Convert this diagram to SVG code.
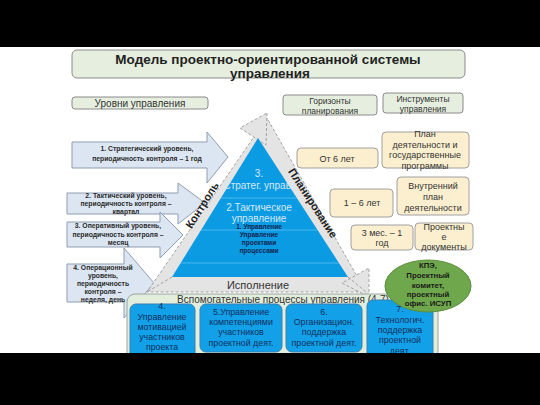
<svg xmlns="http://www.w3.org/2000/svg" width="540" height="405" viewBox="0 0 540 405">
<style>
text{font-family:"Liberation Sans","DejaVu Sans",sans-serif;text-anchor:middle}
.gbox{fill:#e6efdf;stroke:#8a8a8a;stroke-width:1}
.ybox{fill:#fcefcf;stroke:#a0a0a0;stroke-width:1}
.arr{fill:#dce6f2;stroke:#8f9db0;stroke-width:1}
.bbox{fill:#12a0e8;stroke:#3a7fb0;stroke-width:1}
.t9{font-size:9px;fill:#333}
.t10{font-size:10px;fill:#333}
.ta{font-size:6.8px;font-weight:bold;fill:#2a2a2a}
.tb{font-size:8.8px;fill:#10305e}
.band{fill:#e4e4e4;stroke:#8f8f8f;stroke-width:0.8;stroke-dasharray:3 2}
</style>
<rect x="0" y="0" width="540" height="405" fill="#ffffff"/>
<rect x="0" y="0" width="540" height="47" fill="#000"/>

<g id="title">
<rect class="gbox" x="72" y="50" width="393" height="28" rx="5"/>
<text x="268" y="64" style="font-size:13.5px;font-weight:bold;fill:#222">Модель проектно-ориентированной системы</text>
<text x="270" y="78" style="font-size:13.5px;font-weight:bold;fill:#222">управления</text>
</g>

<g id="levels-header">
<rect class="gbox" x="72" y="97" width="136" height="12" rx="3"/>
<text class="t10" x="140" y="106.5">Уровни управления</text>
</g>
<g id="horizons-header">
<rect class="gbox" x="283" y="95" width="94" height="20" rx="3"/>
<text class="t9" x="330" y="103.5" style="font-size:8.5px">Горизонты</text>
<text class="t9" x="330" y="113.5" style="font-size:8.5px">планирования</text>
</g>
<g id="tools-header">
<rect class="gbox" x="383" y="93" width="80" height="20" rx="3"/>
<text class="t9" x="423" y="101.5" style="font-size:8.5px">Инструменты</text>
<text class="t9" x="423" y="111.5" style="font-size:8.5px">управления</text>
</g>

<g id="level1">
<polygon class="arr" points="72,142 207,142 207,132 228,157 207,183 207,168 72,168"/>
<text class="ta" x="147" y="151">1. Стратегический уровень,</text>
<text class="ta" x="147" y="161">периодичность контроля – 1 год</text>
</g>
<g id="level2">
<polygon class="arr" points="67,193 178,193 178,183 205,203 178,224 178,214 67,214"/>
<text class="ta" x="126" y="198">2. Тактический уровень,</text>
<text class="ta" x="126" y="206">периодичность контроля –</text>
<text class="ta" x="126" y="214">квартал</text>
</g>
<g id="level3">
<polygon class="arr" points="67,222 160,222 160,212 183,235 160,258 160,247 67,247"/>
<text class="ta" x="118" y="228">3. Оперативный уровень,</text>
<text class="ta" x="118" y="237">периодичность контроля –</text>
<text class="ta" x="118" y="245">месяц</text>
</g>
<g id="level4">
<polygon class="arr" points="67,264 124,264 124,248 154,283 124,318 124,302 67,302"/>
<text class="ta" x="103" y="270">4. Операционный</text>
<text class="ta" x="103" y="278">уровень,</text>
<text class="ta" x="103" y="286">периодичность</text>
<text class="ta" x="103" y="294">контроля –</text>
<text class="ta" x="103" y="302">неделя, день</text>
</g>

<g id="connectors">
<polygon class="band" points="267,118 147,292 366,292"/>
<polygon class="band" points="267,113 266,145 240,128"/>
<polygon class="band" points="369,297 369,268 342,283"/>
<line x1="172" y1="277" x2="147" y2="292" stroke="#8f8f8f" stroke-width="0.8" stroke-dasharray="3 2"/>
<line x1="348" y1="277" x2="366" y2="292" stroke="#8f8f8f" stroke-width="0.8" stroke-dasharray="3 2"/>
</g>

<g id="pyramid">
<polygon points="258,138 172,277 348,277" fill="#0b9be3"/>
<g stroke="#5cc0f0" stroke-width="0.8">
<line x1="221" y1="198" x2="297" y2="198"/>
<line x1="201" y1="230" x2="317" y2="230"/>
<line x1="181" y1="263" x2="339" y2="263"/>
</g>
<text x="259" y="177" style="font-size:10px;fill:#d6e8f7">3.</text>
<text x="260" y="189" style="font-size:10px;fill:#d6e8f7">Стратег. управл</text>
<text x="259" y="211" style="font-size:10px;fill:#d6e8f7">2.Тактическое</text>
<text x="259" y="222" style="font-size:10px;fill:#d6e8f7">управление</text>
<text x="259" y="229" style="font-size:6.5px;font-weight:bold;fill:#0d2550">1. Управление</text>
<text x="259" y="237" style="font-size:6.5px;font-weight:bold;fill:#0d2550">Управление</text>
<text x="259" y="245" style="font-size:6.5px;font-weight:bold;fill:#0d2550">проектами</text>
<text x="259" y="253" style="font-size:6.5px;font-weight:bold;fill:#0d2550">процессами</text>
</g>

<g id="cycle-labels">
<text x="202" y="209" transform="rotate(-58 202 205)" style="font-size:11px;font-weight:bold;fill:#222">Контроль</text>
<text x="313" y="207" transform="rotate(57 313 203)" style="font-size:11px;font-weight:bold;fill:#222">Планирование</text>
<text x="258" y="289" style="font-size:11px;fill:#333">Исполнение</text>
</g>

<g id="h1">
<rect class="ybox" x="297" y="148" width="81" height="20" rx="4"/>
<text class="t9" x="337" y="161.5">От 6 лет</text>
</g>
<g id="i1">
<rect class="ybox" x="382" y="132" width="87" height="36" rx="4"/>
<text class="t9" x="425" y="137">План</text>
<text class="t9" x="425" y="148">деятельности и</text>
<text class="t9" x="425" y="158">государственные</text>
<text class="t9" x="425" y="169">программы</text>
</g>
<g id="h2">
<rect class="ybox" x="330" y="189" width="63" height="28" rx="4"/>
<text class="t9" x="362" y="206">1 – 6 лет</text>
</g>
<g id="i2">
<rect class="ybox" x="397" y="177" width="72" height="38" rx="4"/>
<text class="t9" x="433" y="189">Внутренний</text>
<text class="t9" x="433" y="200">план</text>
<text class="t9" x="433" y="211">деятельности</text>
</g>
<g id="h3">
<rect class="ybox" x="351" y="225" width="62" height="25" rx="4"/>
<text class="t9" x="382" y="236">3 мес. – 1</text>
<text class="t9" x="382" y="246">год</text>
</g>
<g id="i3">
<rect class="ybox" x="415" y="223" width="58" height="27" rx="4"/>
<text class="t9" x="444" y="230">Проектны</text>
<text class="t9" x="444" y="240">е</text>
<text class="t9" x="444" y="250">документы</text>
</g>

<g id="support">
<rect class="gbox" x="127" y="294" width="311" height="80" rx="8" style="fill:#e2eedb;stroke:#9aa5a0"/>
<text x="283" y="303" style="font-size:10px;fill:#333">Вспомогательные процессы управления (4-7)</text>
</g>
<g id="p4">
<rect class="bbox" x="130" y="304" width="65" height="60" rx="6"/>
<text class="tb" x="162" y="309">4.</text>
<text class="tb" x="162" y="320">Управление</text>
<text class="tb" x="162" y="330">мотивацией</text>
<text class="tb" x="162" y="340">участников</text>
<text class="tb" x="162" y="350">проекта</text>
</g>
<g id="p5">
<rect class="bbox" x="200" y="304" width="82" height="48" rx="6"/>
<text class="tb" x="241" y="315">5.Управление</text>
<text class="tb" x="241" y="325">компетенциями</text>
<text class="tb" x="241" y="335">участников</text>
<text class="tb" x="241" y="346">проектной деят.</text>
</g>
<g id="p6">
<rect class="bbox" x="286" y="304" width="76" height="48" rx="6"/>
<text class="tb" x="324" y="315">6.</text>
<text class="tb" x="324" y="325">Организацион.</text>
<text class="tb" x="324" y="335">поддержка</text>
<text class="tb" x="324" y="346">проектной деят.</text>
</g>
<g id="p7">
<rect class="bbox" x="367" y="300" width="66" height="64" rx="6"/>
<text class="tb" x="400" y="312">7.</text>
<text class="tb" x="400" y="323">Технологич.</text>
<text class="tb" x="400" y="333">поддержка</text>
<text class="tb" x="400" y="343">проектной</text>
<text class="tb" x="400" y="354">деят.</text>
</g>

<g id="kpi">
<ellipse cx="428" cy="286" rx="43" ry="26" fill="#6fa84c" stroke="#5a8c3c" stroke-width="1"/>
<text x="428" y="268" style="font-size:7.8px;font-weight:bold;fill:#1a1a1a">КПЭ,</text>
<text x="428" y="278" style="font-size:7.8px;font-weight:bold;fill:#1a1a1a">Проектный</text>
<text x="428" y="288" style="font-size:7.8px;font-weight:bold;fill:#1a1a1a">комитет,</text>
<text x="428" y="297" style="font-size:7.8px;font-weight:bold;fill:#1a1a1a">проектный</text>
<text x="428" y="306" style="font-size:7.8px;font-weight:bold;fill:#1a1a1a">офис. ИСУП</text>
</g>

<rect x="0" y="353" width="540" height="52" fill="#000"/>
</svg>
